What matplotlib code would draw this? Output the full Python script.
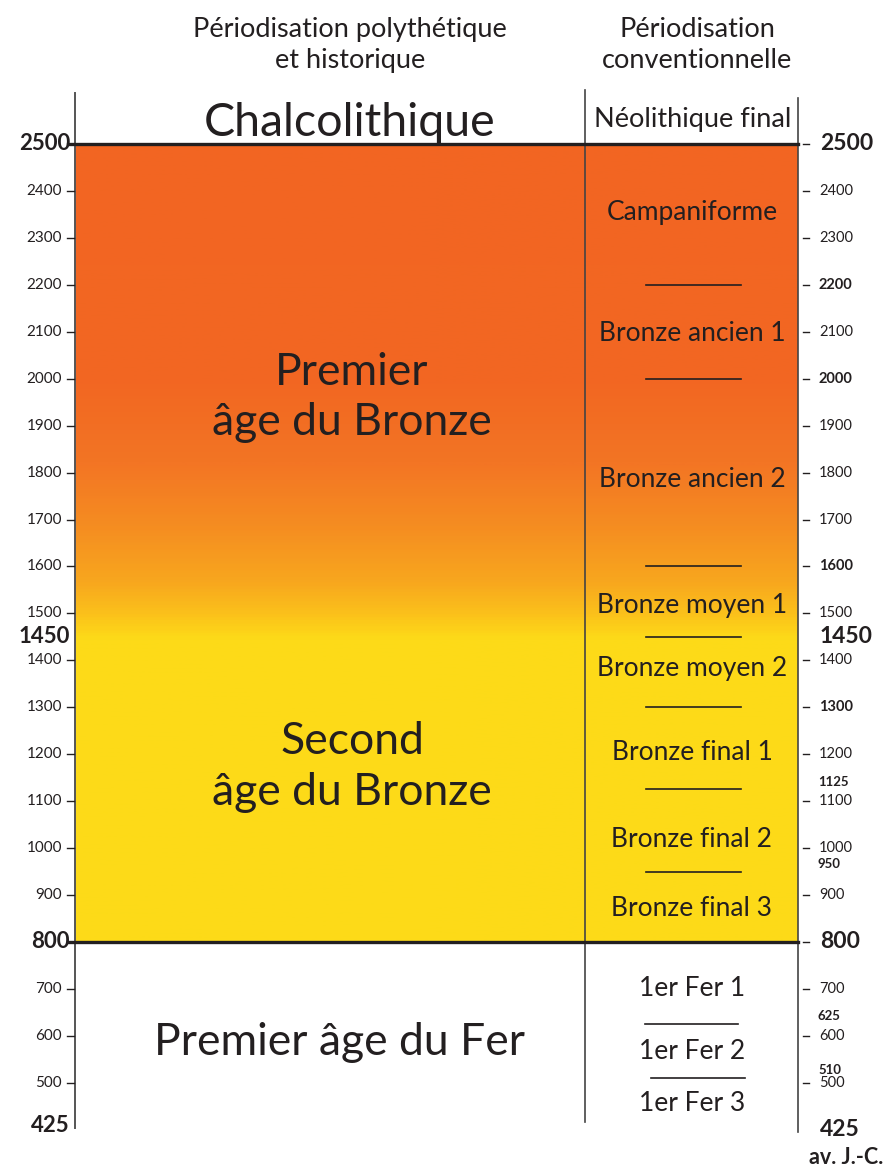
import numpy as np
import matplotlib
matplotlib.use("Agg")
import matplotlib.pyplot as plt
from matplotlib.colors import LinearSegmentedColormap

plt.rcParams['font.family'] = ['Lato', 'DejaVu Sans']
ENCRE = '#231f20'

# Données
bornes_majeures = [2500, 800]
bornes_conv = [2200, 2000, 1600, 1450, 1300, 1125, 950, 800, 625, 510]
periodes_conv = ["Campaniforme", "Bronze ancien 1", "Bronze ancien 2",
                 "Bronze moyen 1", "Bronze moyen 2", "Bronze final 1",
                 "Bronze final 2", "Bronze final 3", "1er Fer 1", "1er Fer 2",
                 "1er Fer 3"]
pos_conv = [2355, 2096, 1786, 1516, 1382, 1203, 1018, 871, 702, 566, 455]
periodes_poly = ["Premier\nâge du Bronze", "Second\nâge du Bronze", "Premier âge du Fer"]
pos_poly = [1960, 1172, 586]
x_poly = [352, 352, 340]

ticks_gauche = [2400, 2300, 2200, 2100, 2000, 1900, 1800, 1700, 1600, 1500,
                1400, 1300, 1200, 1100, 1000, 900, 700, 600, 500]
ticks_droite = [2500, 2400, 2300, 2200, 2100, 2000, 1900, 1800, 1700, 1600,
                1500, 1400, 1300, 1200, 1100, 1000, 900, 800, 700, 600, 500]
labels_droite_normaux = [2400, 2300, 2100, 1900, 1800, 1700, 1500, 1400,
                         1200, 1100, 1000, 900, 700, 600, 500]
labels_droite_gras = [2200, 2000, 1600, 1300]
labels_droite_petits = [1125, 950, 625, 510]
labels_gros = [2500, 1450, 800, 425]

# échelle : 2500 -> y=144 px, 800 -> y=942 px
px_an = (942 - 144) / 1700.0
def an(py):
    return 2500 - (py - 144) / px_an

fig = plt.figure(figsize=(8.87, 11.67), dpi=100)
ax = fig.add_axes([0, 0, 1, 1])
ax.set_xlim(0, 887)
ax.set_ylim(an(1167), an(0))
ax.axis('off')

# dégradé orange -> jaune (0 = 2500, 1 = 800)
cmap = LinearSegmentedColormap.from_list('bronze', [
    (0.0, '#f26522'), (0.30, '#f26722'), (0.40, '#f37524'),
    (0.48, '#f58d21'), (0.55, '#f8a71e'), (0.59, '#fbc11b'),
    (0.62, '#fdda18'), (1.0, '#fddb18')])
grad = np.linspace(0, 1, 600).reshape(-1, 1)
ax.imshow(grad, extent=(75, 798, 800, 2500), cmap=cmap, aspect='auto',
          origin='upper', zorder=0)

# lignes verticales
ax.plot([75, 75], [an(1128), an(93)], color='#555555', lw=1.4, zorder=2)
ax.plot([585, 585], [an(1122), an(90)], color='#444444', lw=1.2, zorder=2)
ax.plot([798, 798], [an(1132), an(98)], color='#444444', lw=1.2, zorder=2)

# limites majeures
for b in bornes_majeures:
    ax.plot([68, 798], [b, b], color=ENCRE, lw=2.4, zorder=3)

# séparateurs conventionnels
for b in bornes_conv:
    if b == 625:
        x0, x1 = 645, 738
    elif b == 510:
        x0, x1 = 651, 745
    else:
        x0, x1 = 646, 741
    ax.plot([x0, x1], [b, b], color=ENCRE, lw=1.2, zorder=3)

# graduations
for t in ticks_gauche:
    ax.plot([67, 74], [t, t], color=ENCRE, lw=1.0)
    ax.text(62, t, str(t), ha='right', va='center', fontsize=11, color=ENCRE)
for t in ticks_droite:
    ax.plot([803, 809], [t, t], color=ENCRE, lw=1.0)
for t in labels_droite_normaux:
    ax.text(819, t, str(t), ha='left', va='center', fontsize=10.5, color=ENCRE)
for t in labels_droite_gras:
    ax.text(819, t, str(t), ha='left', va='center', fontsize=10.5,
            fontweight='bold', color=ENCRE)
for t in labels_droite_petits:
    ax.text(818, t + 8, str(t), ha='left', va='baseline', fontsize=9.5,
            fontweight='bold', color=ENCRE)
for t in labels_gros:
    ax.text(70, t if t != 425 else an(1125), str(t), ha='right', va='center',
            fontsize=16, fontweight='bold', color=ENCRE)
    ax.text(820, t if t != 425 else an(1130), str(t), ha='left', va='center',
            fontsize=16.5, fontweight='bold', color=ENCRE)
ax.text(846, an(1157), "av. J.-C.", ha='center', va='center',
        fontsize=15.5, fontweight='bold', color=ENCRE)

# en-têtes
ax.text(350, an(45), "Périodisation polythétique\net historique",
        ha='center', va='center', fontsize=19.5, color=ENCRE, linespacing=1.3)
ax.text(697, an(45), "Périodisation\nconventionnelle",
        ha='center', va='center', fontsize=19.5, color=ENCRE, linespacing=1.3)
ax.text(350, an(123), "Chalcolithique", ha='center', va='center', fontsize=33.5, color=ENCRE)
ax.text(693, an(119), "Néolithique final", ha='center', va='center', fontsize=19.5, color=ENCRE)

for nom, x, y in zip(periodes_poly, x_poly, pos_poly):
    ax.text(x, y, nom, ha='center', va='center', fontsize=32, color=ENCRE,
            linespacing=1.3)
for nom, y in zip(periodes_conv, pos_conv):
    ax.text(692, y, nom, ha='center', va='center', fontsize=19, color=ENCRE)

fig.savefig('out.png', dpi=100)
